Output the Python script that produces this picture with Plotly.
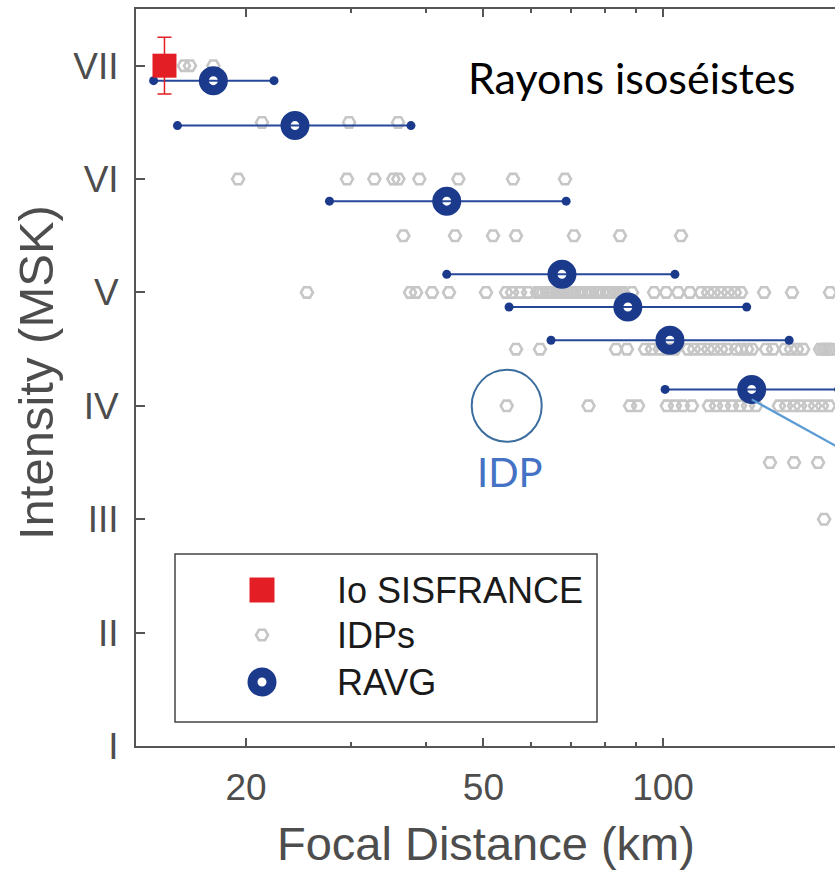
import math
import plotly.graph_objects as go

# ---------------- data ----------------
X_MIN, X_MAX = 13.08, 194.2
Y_MIN, Y_MAX = 1.0, 7.5
intensity_vals = [1, 2, 3, 4, 5, 6, 7]
intensity_text = ["I", "II", "III", "IV", "V", "VI", "VII"]
x_major = [20, 50, 100]
x_major_text = ["20", "50", "100"]
x_minor = [30, 40, 60, 70, 80, 90]

# Io SISFRANCE
io_x = [14.6]
io_y = [7.0]
io_err = [0.25]

# IDPs, per intensity row (km)
idp_7 = [15.74, 16.11, 17.63]
idp_6_5 = [21.27, 29.77, 35.96]
idp_6 = [19.40, 29.53, 32.82, 35.32, 36.01, 39.04, 45.39, 56.05, 68.5]
idp_5_5 = [36.71, 44.81, 51.88, 56.7, 70.9, 84.7, 107.2]
idp_5 = [25.3, 37.67, 38.55, 41.0, 43.78, 50.5, 54.56, 55.84, 57.59, 59.4,
         61.5, 62.2, 62.93, 63.9, 64.65, 65.4, 66.4, 67.2, 68.2, 69.03,
         70.1, 70.9, 72.0, 72.9, 74.0, 75.15, 76.0, 77.2, 78.1, 79.3,
         80.6, 81.5, 82.8, 83.7, 84.7, 85.7, 88.7, 96.6, 101.2, 106.0,
         110.9, 115.8, 118.97, 121.75, 125.1, 128.5, 131.9, 135.1, 147.7,
         164.5, 190.5]
idp_4_5 = [56.7, 62.2, 83.4, 87.0, 93.3, 95.8, 98.8, 101.5, 104.7, 110.1,
           112.7, 115.8, 119.0, 121.75, 125.1, 128.0, 132.5, 135.1, 138.3,
           141.0, 148.8, 152.9, 160.1, 163.9, 167.7, 171.7, 183.3, 185.5,
           187.6, 189.8, 192.0]
idp_4 = [54.7, 75.0, 88.05, 90.8, 101.5, 104.7, 108.0, 111.8, 119.4, 122.7,
         126.5, 130.5, 134.6, 138.8, 143.2, 156.4, 160.8, 165.8, 169.7,
         175.0, 179.8, 184.7, 189.8]
idp_3_5 = [151.1, 165.8, 181.9]
idp_3 = [186.2]
idp_rows = [(7.0, idp_7), (6.5, idp_6_5), (6.0, idp_6), (5.5, idp_5_5),
            (5.0, idp_5), (4.5, idp_4_5), (4.0, idp_4), (3.5, idp_3_5),
            (3.0, idp_3)]
idp_circled = (54.7, 4.0)

# RAVG
ravg_x = [17.63, 24.16, 43.4, 67.7, 87.3, 102.7, 140.8]
ravg_y = [6.868, 6.472, 5.805, 5.16, 4.872, 4.579, 4.145]
ravg_lo = [14.0, 15.35, 27.6, 43.4, 55.2, 64.9, 100.8]
ravg_hi = [22.28, 37.8, 68.8, 104.7, 138.1, 162.7, 197.0]

# ---------------- styling ----------------
W, H = 835, 871
ML, MR, MT, MB = 136, 0, 9, 125
PW, PH = W - ML - MR, H - MT - MB
AX = "#555555"
TXT = "#4d4d4d"
FONT = "Liberation Sans, Arial, Helvetica, sans-serif"
CAL = "Lato, Open Sans, sans-serif"
BLUE = "#1b3a8c"
RED = "#e31e24"
GREY = "#c6c6c6"

lx0, lx1 = math.log10(X_MIN), math.log10(X_MAX)


def to_px(v, yv):
    """data -> pixel coordinates inside plot area (overlay axes)."""
    return ((math.log10(v) - lx0) / (lx1 - lx0) * PW,
            (Y_MAX - yv) / (Y_MAX - Y_MIN) * PH)


fig = go.Figure()

idp_x, idp_y = [], []
for yv, xs in idp_rows:
    idp_x += xs
    idp_y += [yv] * len(xs)
fig.add_trace(go.Scatter(
    x=idp_x, y=idp_y, mode="markers", showlegend=False,
    marker=dict(symbol="hexagon2-open", size=12, color=GREY,
                line=dict(width=2.6, color=GREY))))

bx, by = [], []
for lo, hi, yv in zip(ravg_lo, ravg_hi, ravg_y):
    bx += [lo, hi, None]
    by += [yv, yv, None]
fig.add_trace(go.Scatter(
    x=bx, y=by, mode="lines+markers", showlegend=False,
    line=dict(color="#27479a", width=2),
    marker=dict(size=9, color=BLUE)))

fig.add_trace(go.Scatter(
    x=ravg_x, y=ravg_y, mode="markers", showlegend=False,
    marker=dict(symbol="circle-open", size=19, color=BLUE,
                line=dict(width=10, color=BLUE))))

fig.add_trace(go.Scatter(
    x=io_x, y=io_y, mode="markers", showlegend=False,
    marker=dict(symbol="square", size=24, color=RED),
    error_y=dict(type="data", array=io_err, color=RED, thickness=1.5,
                 width=7)))

# ---------- manual legend on a pixel overlay ----------
leg_sym_x = 126
leg_rows_y = [581, 626, 673]
leg_labels = ["Io SISFRANCE", "IDPs", "RAVG"]
fig.add_trace(go.Scatter(
    x=[leg_sym_x], y=[leg_rows_y[0]], xaxis="x2", yaxis="y2",
    mode="markers", showlegend=False,
    marker=dict(symbol="square", size=25, color=RED)))
fig.add_trace(go.Scatter(
    x=[leg_sym_x], y=[leg_rows_y[1]], xaxis="x2", yaxis="y2",
    mode="markers", showlegend=False,
    marker=dict(symbol="hexagon2-open", size=12, color=GREY,
                line=dict(width=2.6, color=GREY))))
fig.add_trace(go.Scatter(
    x=[leg_sym_x], y=[leg_rows_y[2]], xaxis="x2", yaxis="y2",
    mode="markers", showlegend=False,
    marker=dict(symbol="circle-open", size=19, color=BLUE,
                line=dict(width=10, color=BLUE))))

shapes = [dict(type="rect", xref="x2", yref="y2", x0=39, x1=461, y0=545,
               y1=713, line=dict(color="#444444", width=1.5),
               fillcolor="white", layer="below")]
annotations = []
for yy, lab in zip(leg_rows_y, leg_labels):
    annotations.append(dict(xref="x2", yref="y2", x=199, y=yy, text=lab,
                            showarrow=False, xanchor="left",
                            yanchor="middle",
                            font=dict(family=FONT, size=36, color="#1a1a1a")))

# IDP circle + label
cx, cy = to_px(*idp_circled)
shapes.append(dict(type="circle", xref="x2", yref="y2", x0=cx - 35,
                   x1=cx + 35, y0=cy - 36, y1=cy + 36,
                   line=dict(color="#3b6e9e", width=2)))
annotations.append(dict(xref="x2", yref="y2", x=cx + 3, y=cy + 66,
                        text="IDP", showarrow=False, xanchor="center",
                        yanchor="middle",
                        font=dict(family=CAL, size=40, color="#4472c4")))

# pointer line from last RAVG
rx, ry = to_px(ravg_x[-1], ravg_y[-1])
shapes.append(dict(type="line", xref="x2", yref="y2", x0=rx, y0=ry + 10,
                   x1=rx + 110, y1=ry + 10 + 61,
                   line=dict(color="#5b9bd5", width=2.2)))

annotations.append(dict(xref="x2", yref="y2", x=495, y=68,
                        text="Rayons isoséistes", showarrow=False,
                        xanchor="center", yanchor="middle",
                        font=dict(family=CAL, size=43, color="black")))

# axis titles
annotations.append(dict(xref="paper", yref="paper", x=(36 - ML) / PW,
                        y=1 - (373 - MT) / PH, text="Intensity (MSK)",
                        textangle=-90, showarrow=False, xanchor="center",
                        yanchor="middle",
                        font=dict(family=FONT, size=49, color=TXT)))
annotations.append(dict(xref="paper", yref="paper", x=(486 - ML) / PW,
                        y=1 - (843 - MT) / PH, text="Focal Distance (km)",
                        showarrow=False, xanchor="center", yanchor="middle",
                        font=dict(family=FONT, size=47, color=TXT)))

fig.update_layout(
    width=W, height=H,
    margin=dict(l=ML, r=MR, t=MT, b=MB, pad=0),
    paper_bgcolor="white", plot_bgcolor="white",
    showlegend=False,
    shapes=shapes, annotations=annotations,
    xaxis=dict(type="log", range=[lx0, lx1], tickvals=x_major,
               ticktext=x_major_text, ticks="inside", ticklen=8,
               tickwidth=2, tickcolor=AX, showline=True, linecolor=AX,
               linewidth=2, mirror="ticks", showgrid=False, zeroline=False,
               ticklabelstandoff=8,
               tickfont=dict(family=FONT, size=37, color=TXT),
               minor=dict(tickvals=x_minor, ticks="inside", ticklen=4,
                          tickwidth=1.5, tickcolor=AX, showgrid=False)),
    yaxis=dict(range=[Y_MIN, Y_MAX], tickvals=intensity_vals,
               ticktext=intensity_text, ticks="inside", ticklen=9,
               tickwidth=2, tickcolor=AX, showline=True, linecolor=AX,
               linewidth=2, mirror=False, showgrid=False, zeroline=False,
               ticklabelstandoff=8,
               tickfont=dict(family=FONT, size=37, color=TXT)),
    xaxis2=dict(overlaying="x", anchor="y2", range=[0, PW], visible=False,
                fixedrange=True),
    yaxis2=dict(overlaying="y", anchor="x2", range=[PH, 0], visible=False,
                fixedrange=True),
)

fig.write_html("out.html")
